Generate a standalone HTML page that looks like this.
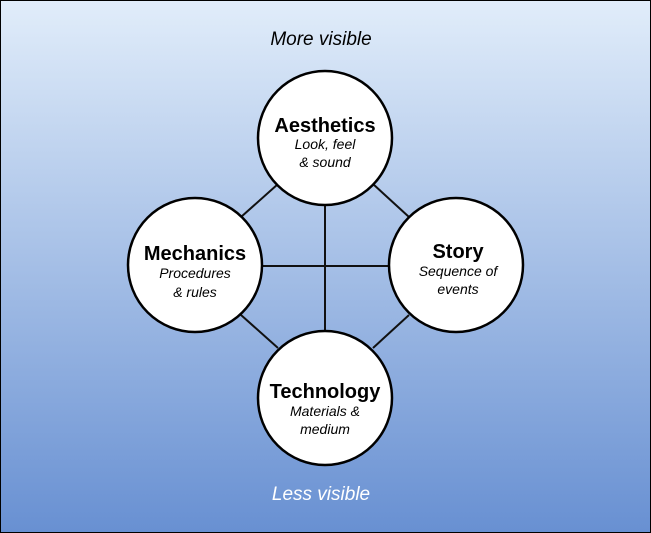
<!DOCTYPE html>
<html><head><style>
html,body{margin:0;padding:0;}
body{width:651px;height:533px;overflow:hidden;}
</style></head><body>
<svg width="651" height="533" xmlns="http://www.w3.org/2000/svg" style="display:block">
<defs>
<linearGradient id="g" x1="0" y1="0" x2="0" y2="1">
<stop offset="0" stop-color="#e1edfa"/>
<stop offset="1" stop-color="#6890d2"/>
</linearGradient>
</defs>
<rect x="0.5" y="0.5" width="650" height="532" fill="url(#g)" stroke="#000" stroke-width="1"/>
<g stroke="#111" stroke-width="2">
<line x1="325" y1="205" x2="325" y2="331"/>
<line x1="262" y1="266" x2="389" y2="266"/>
<line x1="241" y1="217" x2="278" y2="184"/>
<line x1="373" y1="184" x2="409" y2="217"/>
<line x1="241" y1="315" x2="278" y2="348"/>
<line x1="373" y1="348" x2="409" y2="315"/>
</g>
<g fill="#fff" stroke="#000" stroke-width="2.5">
<circle cx="325" cy="138" r="67"/>
<circle cx="195" cy="265" r="67"/>
<circle cx="456" cy="265" r="67"/>
<circle cx="325" cy="398" r="67"/>
</g>
<g font-family="Liberation Sans, sans-serif" text-anchor="middle">
<text x="321" y="45" font-size="19" font-style="italic" fill="#000">More visible</text>
<text x="321" y="500" font-size="19" font-style="italic" fill="#fff">Less visible</text>
<text x="325" y="132" font-size="20" font-weight="bold">Aesthetics</text>
<text x="325" y="149" font-size="14" font-style="italic">Look, feel</text>
<text x="325" y="167" font-size="14" font-style="italic">&amp; sound</text>
<text x="195" y="260" font-size="20" font-weight="bold">Mechanics</text>
<text x="195" y="278" font-size="14" font-style="italic">Procedures</text>
<text x="195" y="297" font-size="14" font-style="italic">&amp; rules</text>
<text x="458" y="258" font-size="20" font-weight="bold">Story</text>
<text x="458" y="276" font-size="14" font-style="italic">Sequence of</text>
<text x="458" y="294" font-size="14" font-style="italic">events</text>
<text x="325" y="398" font-size="20" font-weight="bold">Technology</text>
<text x="325" y="416" font-size="14" font-style="italic">Materials &amp;</text>
<text x="325" y="434" font-size="14" font-style="italic">medium</text>
</g>
</svg>
</body></html>
